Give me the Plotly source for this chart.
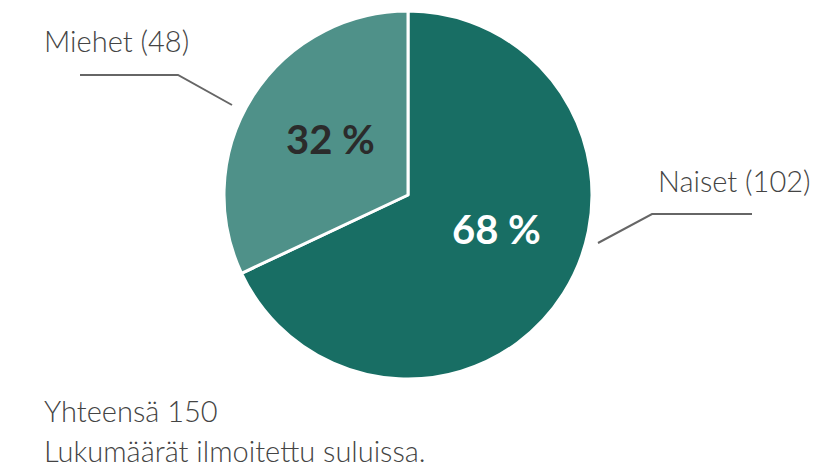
import plotly.graph_objects as go

categories = ["Naiset", "Miehet"]
counts = [102, 48]
colors = ["#186e64", "#4f9189"]
text_colors = ["#ffffff", "#2b2b2b"]
total_label = "Yhteensä 150"
note_label = "Lukumäärät ilmoitettu suluissa."

W, H = 816, 470
cx, cy, r = 408, 195, 184

total = sum(counts)
pct_text = [f"{round(c / total * 100)} %" for c in counts]

fig = go.Figure(go.Pie(
    labels=categories,
    values=counts,
    textinfo="none",
    sort=False,
    direction="clockwise",
    rotation=0,
    marker=dict(colors=colors, line=dict(color="#ffffff", width=3)),
    hoverinfo="skip",
    showlegend=False,
    domain=dict(x=[(cx - r) / W, (cx + r) / W], y=[(H - cy - r) / H, (H - cy + r) / H]),
))

def px(x):
    return x / W

def py(y):
    return 1 - y / H

line_style = dict(color="#666666", width=2)
shapes = [
    dict(type="path", xref="paper", yref="paper",
         path=f"M {px(232)},{py(105)} L {px(178)},{py(75)} L {px(80)},{py(75)}",
         line=line_style),
    dict(type="path", xref="paper", yref="paper",
         path=f"M {px(598)},{py(243)} L {px(652)},{py(214)} L {px(752)},{py(214)}",
         line=line_style),
]

label_font = dict(family="Lato", size=29, color="#444444", weight=300)
pct_pos = [(497, 229), (330, 139)]
annotations = [
    dict(text=f"{categories[1]} ({counts[1]})", x=px(42), y=py(40), xref="paper", yref="paper",
         xanchor="left", yanchor="middle", showarrow=False, font=label_font),
    dict(text=f"{categories[0]} ({counts[0]})", x=px(656), y=py(180), xref="paper", yref="paper",
         xanchor="left", yanchor="middle", showarrow=False, font=label_font),
    dict(text=total_label, x=px(42), y=py(410), xref="paper", yref="paper",
         xanchor="left", yanchor="middle", showarrow=False, font=label_font),
    dict(text=note_label, x=px(42), y=py(450), xref="paper", yref="paper",
         xanchor="left", yanchor="middle", showarrow=False, font=label_font),
]
for t, c, (x, y) in zip(pct_text, text_colors, pct_pos):
    annotations.append(dict(text=t, x=px(x), y=py(y), xref="paper", yref="paper",
                            xanchor="center", yanchor="middle", showarrow=False,
                            font=dict(family="Lato", size=40, color=c, weight="bold")))

fig.update_layout(
    width=W, height=H,
    margin=dict(l=0, r=0, t=0, b=0),
    paper_bgcolor="#ffffff",
    plot_bgcolor="#ffffff",
    shapes=shapes,
    annotations=annotations,
)

fig.write_html("out.html")
